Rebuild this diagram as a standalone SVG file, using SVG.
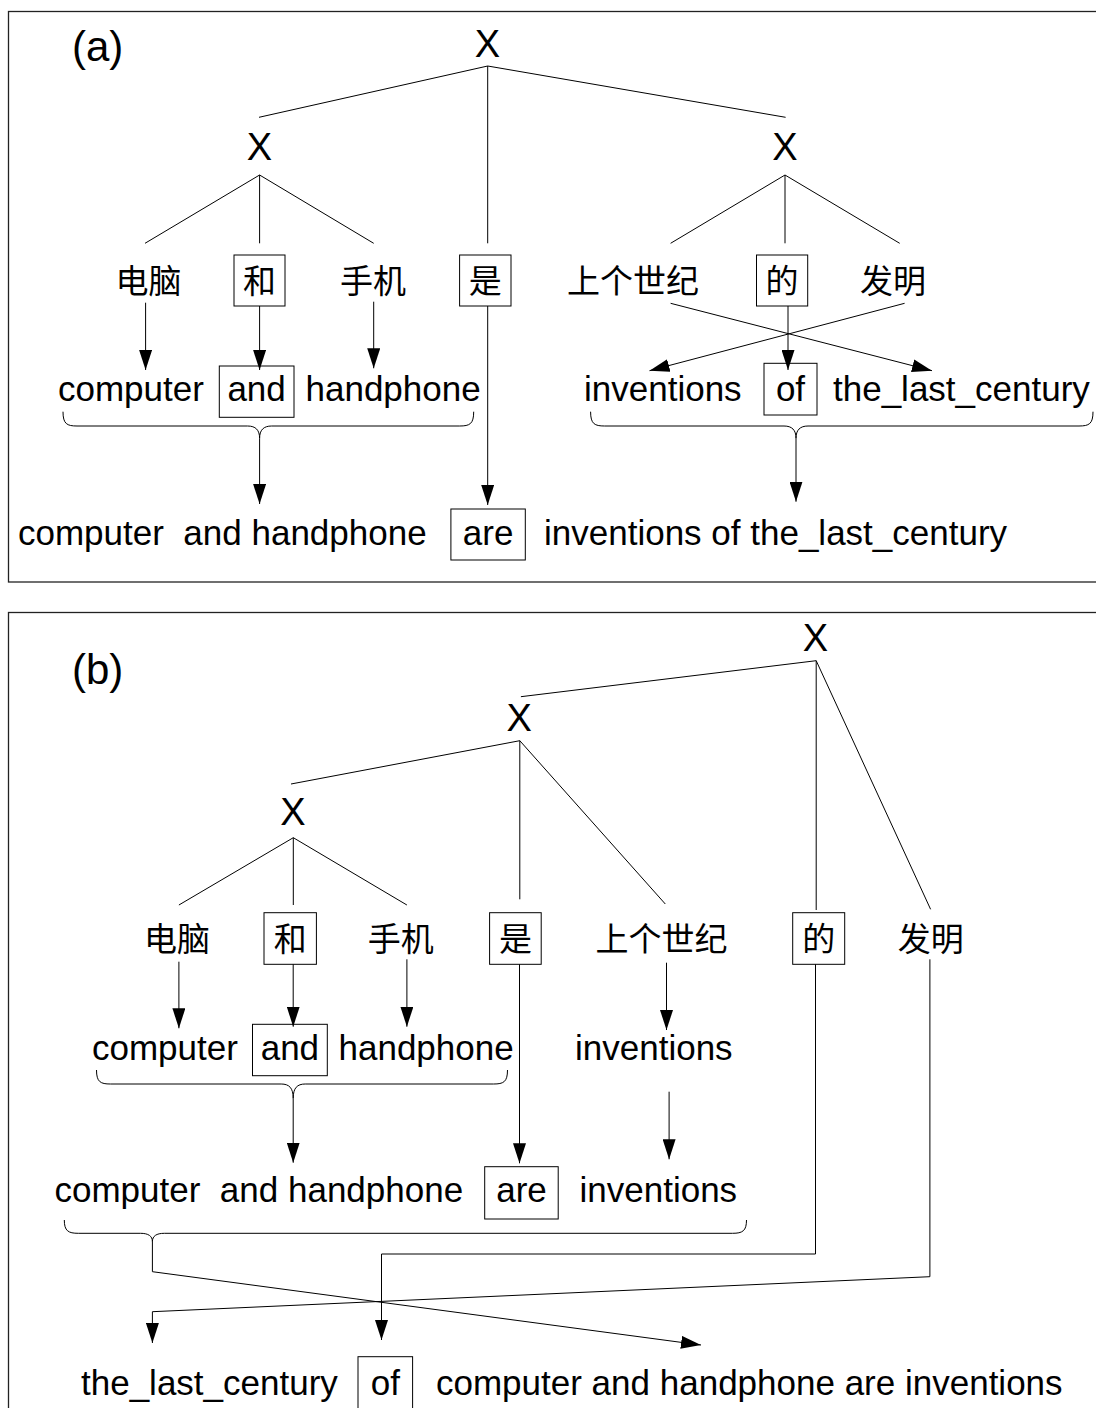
<svg xmlns="http://www.w3.org/2000/svg" width="1096" height="1408" viewBox="0 0 1096 1408">
  <style>
    .frame { fill: none; stroke: #222; stroke-width: 1.3; }
    .ln { fill: none; stroke: #000; stroke-width: 1; }
    .arr { fill: none; stroke: #000; stroke-width: 1; marker-end: url(#head); }
    .box { fill: none; stroke: #000; stroke-width: 1; }
    .en { font-family: "Liberation Sans", Arial, sans-serif; font-size: 35px; fill: #000; }
    .x { font-family: "Liberation Sans", Arial, sans-serif; font-size: 38px; fill: #000; text-anchor: middle; }
    .tag { font-family: "Liberation Sans", Arial, sans-serif; font-size: 42px; fill: #000; }
    .zh { font-family: "Liberation Serif", "Noto Sans CJK SC", serif; font-size: 33px; fill: #000; text-anchor: middle; }
    .mid { text-anchor: middle; }
  </style>
  <defs>
    <marker id="head" markerUnits="userSpaceOnUse" markerWidth="20" markerHeight="13" refX="20" refY="6.5" orient="auto">
      <path d="M0,0 L20,6.5 L0,13 Z" fill="#000"/>
    </marker>
  </defs>

  <rect width="1096" height="1408" fill="#fff"/>

  <!-- panel (a) -->
  <g id="panel-a">
    <rect class="frame" x="8.5" y="11.5" width="1100" height="570.5"/>
    <text class="tag" x="72" y="61">(a)</text>

    <g id="a-x-root"><text class="x" x="487.5" y="57">X</text></g>
    <g id="a-x-left"><text class="x" x="259.5" y="160">X</text></g>
    <g id="a-x-right"><text class="x" x="785" y="160">X</text></g>

    <g id="a-diannao"><text class="zh" x="148.5" y="293">电脑</text></g>
    <g id="a-he"><rect class="box" x="234" y="255" width="51" height="51"/><text class="zh" x="259.5" y="293">和</text></g>
    <g id="a-shouji"><text class="zh" x="373" y="293">手机</text></g>
    <g id="a-shi"><rect class="box" x="459.6" y="255" width="51.4" height="51"/><text class="zh" x="485.3" y="293">是</text></g>
    <g id="a-shangge"><text class="zh" x="633" y="293">上个世纪</text></g>
    <g id="a-de"><rect class="box" x="756.5" y="255" width="51.2" height="51"/><text class="zh" x="782" y="293">的</text></g>
    <g id="a-faming"><text class="zh" x="893" y="293">发明</text></g>

    <g id="a-computer"><text class="en" x="58" y="401">computer</text></g>
    <g id="a-and"><rect class="box" x="219.3" y="366" width="74.7" height="51.3"/><text class="en mid" x="256.6" y="401">and</text></g>
    <g id="a-handphone"><text class="en" x="305.5" y="401">handphone</text></g>
    <g id="a-inventions"><text class="en" x="584" y="401">inventions</text></g>
    <g id="a-of"><rect class="box" x="764" y="363.3" width="53" height="51.7"/><text class="en mid" x="790.5" y="401">of</text></g>
    <g id="a-century"><text class="en" x="833" y="401">the_last_century</text></g>

    <g id="a-left-result"><text class="en" x="18" y="545" xml:space="preserve">computer  and handphone</text></g>
    <g id="a-are"><rect class="box" x="450.9" y="509" width="74.4" height="51"/><text class="en mid" x="488.1" y="545">are</text></g>
    <g id="a-right-result"><text class="en" x="544" y="545">inventions of the_last_century</text></g>
  </g>

  <g id="a-connectors">
    <path class="ln" d="M259,117.3 L487.7,66 L785.6,117.3 M487.7,66 L487.7,243.3"/>
    <path class="ln" d="M145,243.3 L259.6,175 L373.7,243.3 M259.6,175 L259.6,243.3"/>
    <path class="ln" d="M670.6,243.3 L785,175 L899.7,243.3 M785,175 L785,243.3"/>

    <line class="arr" x1="145.6" y1="302.7" x2="145.6" y2="370"/>
    <line class="arr" x1="259.6" y1="306" x2="259.6" y2="370"/>
    <line class="arr" x1="373.7" y1="301.7" x2="373.7" y2="368.3"/>
    <line class="arr" x1="487.7" y1="306" x2="487.7" y2="505"/>
    <line class="arr" x1="788" y1="306" x2="788" y2="370"/>
    <line class="arr" x1="670.6" y1="303.3" x2="932" y2="370.7"/>
    <line class="arr" x1="904.6" y1="303.3" x2="649.5" y2="370.7"/>

    <path class="ln" d="M63,411.7 C63,424 67,426 77,426 L247.6,426 C255.6,426 259.6,430 259.6,438.3 C259.6,430 263.6,426 271.6,426 L459.7,426 C469.7,426 473.7,424 473.7,411.7"/>
    <line class="arr" x1="259.6" y1="438.3" x2="259.6" y2="504"/>
    <path class="ln" d="M590.6,411.7 C590.6,424 594.6,426 604.6,426 L784,426 C792,426 796,430 796,438.3 C796,430 800,426 808,426 L1079,426 C1089,426 1093,424 1093,411.7"/>
    <line class="arr" x1="796" y1="438.3" x2="796" y2="501.7"/>
  </g>

  <!-- panel (b) -->
  <g id="panel-b">
    <rect class="frame" x="8.5" y="612.5" width="1100" height="820"/>
    <text class="tag" x="72" y="684">(b)</text>

    <g id="b-x-root"><text class="x" x="815.5" y="651">X</text></g>
    <g id="b-x-mid"><text class="x" x="519.3" y="731">X</text></g>
    <g id="b-x-low"><text class="x" x="293" y="825">X</text></g>

    <g id="b-diannao"><text class="zh" x="177" y="951">电脑</text></g>
    <g id="b-he"><rect class="box" x="264" y="912.7" width="52.4" height="51.6"/><text class="zh" x="290.2" y="951">和</text></g>
    <g id="b-shouji"><text class="zh" x="400.8" y="951">手机</text></g>
    <g id="b-shi"><rect class="box" x="489.6" y="912.7" width="51.6" height="51.6"/><text class="zh" x="515.4" y="951">是</text></g>
    <g id="b-shangge"><text class="zh" x="661.5" y="951">上个世纪</text></g>
    <g id="b-de"><rect class="box" x="792.7" y="912.7" width="52" height="51.6"/><text class="zh" x="818.7" y="951">的</text></g>
    <g id="b-faming"><text class="zh" x="930.8" y="951">发明</text></g>

    <g id="b-computer"><text class="en" x="92" y="1060">computer</text></g>
    <g id="b-and"><rect class="box" x="252.5" y="1024.3" width="74.8" height="51.4"/><text class="en mid" x="289.9" y="1060">and</text></g>
    <g id="b-handphone"><text class="en" x="338.5" y="1060">handphone</text></g>
    <g id="b-inventions"><text class="en" x="575" y="1060">inventions</text></g>

    <g id="b-left-result"><text class="en" x="54.5" y="1202" xml:space="preserve">computer  and handphone</text></g>
    <g id="b-are"><rect class="box" x="484.7" y="1166.7" width="73.5" height="52.3"/><text class="en mid" x="521.5" y="1202">are</text></g>
    <g id="b-inventions2"><text class="en" x="579.5" y="1202">inventions</text></g>

    <g id="b-century"><text class="en" x="81" y="1395">the_last_century</text></g>
    <g id="b-of"><rect class="box" x="358" y="1356.7" width="54.6" height="60"/><text class="en mid" x="385.3" y="1395">of</text></g>
    <g id="b-final"><text class="en" x="436" y="1395">computer and handphone are inventions</text></g>
  </g>

  <g id="b-connectors">
    <path class="ln" d="M520.9,696.7 L816.2,660.7 L930.6,909.3 M816.2,660.7 L816.2,910"/>
    <path class="ln" d="M291,784 L519.8,740.7 L665.3,904 M519.8,740.7 L519.8,899.3"/>
    <path class="ln" d="M178.9,905 L293.3,837.7 L406.9,905 M293.3,837.7 L293.3,905"/>

    <line class="arr" x1="178.9" y1="961.7" x2="178.9" y2="1028.3"/>
    <line class="arr" x1="293.2" y1="964.3" x2="293.2" y2="1026.7"/>
    <line class="arr" x1="406.9" y1="959.3" x2="406.9" y2="1026.7"/>
    <line class="arr" x1="519.5" y1="964.3" x2="519.5" y2="1163.3"/>
    <line class="arr" x1="666.5" y1="962.7" x2="666.5" y2="1030"/>
    <line class="arr" x1="669.1" y1="1091.7" x2="669.1" y2="1159.3"/>

    <path class="ln" d="M96.5,1070 C96.5,1082 100.5,1084 110.5,1084 L281.2,1084 C289.2,1084 293.2,1088 293.2,1098.3 C293.2,1088 297.2,1084 305.2,1084 L493.5,1084 C503.5,1084 507.5,1082 507.5,1070"/>
    <line class="arr" x1="293.2" y1="1098.3" x2="293.2" y2="1162.7"/>

    <path class="ln" d="M64.3,1220 C64.3,1231 68.3,1233.3 78.3,1233.3 L140.4,1233.3 C148.4,1233.3 152.4,1236 152.4,1241.7 C152.4,1236 156.4,1233.3 164.4,1233.3 L732.5,1233.3 C742.5,1233.3 746.5,1231 746.5,1220"/>
    <polyline class="arr" points="152.4,1241.7 152.4,1271.7 701,1345"/>
    <polyline class="arr" points="815.5,964.3 815.5,1254 381.5,1254 381.5,1340"/>
    <polyline class="arr" points="929.9,959.3 929.9,1276.7 152.4,1311.7 152.4,1343"/>
  </g>
</svg>
